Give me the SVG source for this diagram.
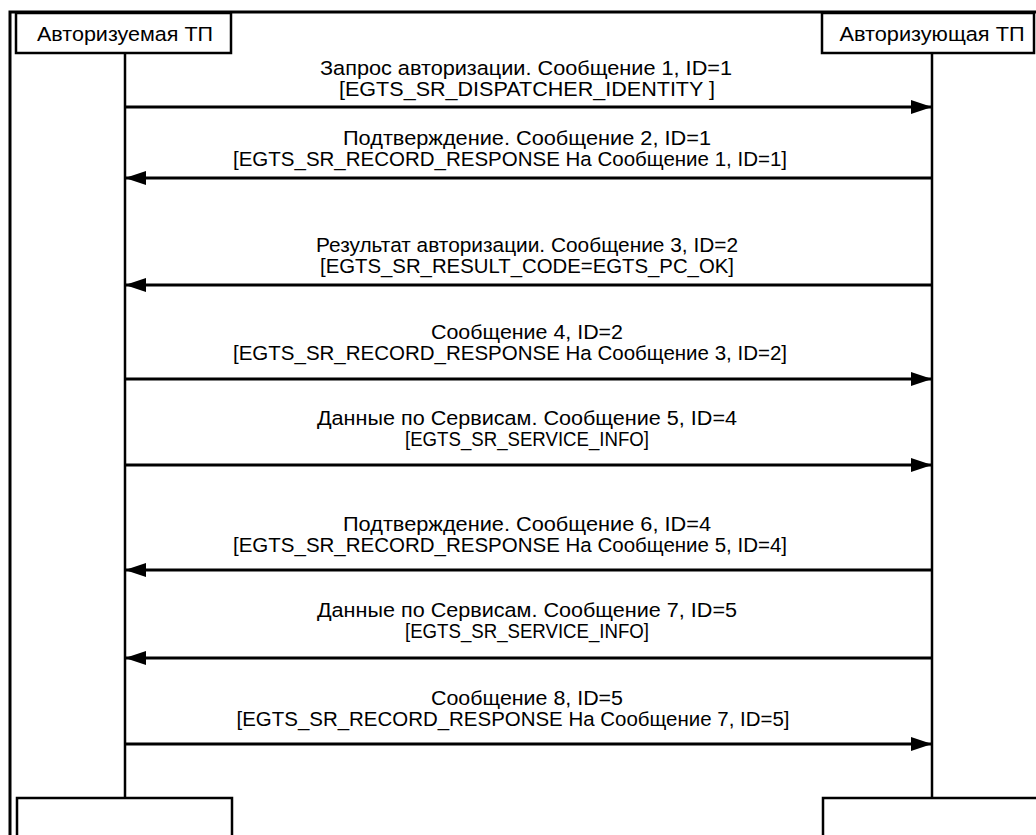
<svg xmlns="http://www.w3.org/2000/svg" width="1036" height="835" viewBox="0 0 1036 835">
<style>
.frame{fill:none;stroke:#000;stroke-width:3}
.box{fill:#fff;stroke:#000;stroke-width:2.5}
.life{stroke:#000;stroke-width:2.5;fill:none}
.msg{stroke:#000;stroke-width:3;fill:none;marker-end:url(#ah)}
text{font-family:"Liberation Sans",Arial,sans-serif;font-size:20.5px;fill:#000;text-anchor:middle;dominant-baseline:central}
</style>
<defs>
<marker id="ah" markerUnits="userSpaceOnUse" markerWidth="22" markerHeight="14" refX="21" refY="7" orient="auto">
<path d="M0,0 L21,7 L0,14 Z" fill="#000"/>
</marker>
</defs>
<rect width="1036" height="835" fill="#fff"/>
<path class="frame" d="M10,835 V12 H1036"/>
<g id="lifelines">
<line class="life" x1="125" y1="53" x2="125" y2="798"/>
<line class="life" x1="932" y1="53" x2="932" y2="798"/>
</g>
<g id="node-left">
<rect class="box" x="16" y="13" width="215" height="40"/>
<text x="125" y="33" textLength="176" lengthAdjust="spacingAndGlyphs">Авторизуемая ТП</text>
</g>
<g id="node-right">
<rect class="box" x="822" y="13" width="212" height="40"/>
<text x="932" y="33" textLength="185" lengthAdjust="spacingAndGlyphs">Авторизующая ТП</text>
</g>
<g id="node-left-bottom">
<path class="box" d="M17,836 V798 H232 V836"/>
</g>
<g id="node-right-bottom">
<path class="box" d="M823,836 V798 H1037"/>
</g>
<g id="connectors">
<line class="msg" x1="125" y1="107" x2="932" y2="107"/>
<line class="msg" x1="932" y1="178" x2="125" y2="178"/>
<line class="msg" x1="932" y1="285" x2="125" y2="285"/>
<line class="msg" x1="125" y1="379" x2="932" y2="379"/>
<line class="msg" x1="125" y1="465" x2="932" y2="465"/>
<line class="msg" x1="932" y1="570" x2="125" y2="570"/>
<line class="msg" x1="932" y1="658" x2="125" y2="658"/>
<line class="msg" x1="125" y1="744" x2="932" y2="744"/>
</g>
<g id="labels">
<text x="526" y="67" textLength="412" lengthAdjust="spacingAndGlyphs">Запрос авторизации. Сообщение 1, ID=1</text>
<text x="527" y="88" textLength="376" lengthAdjust="spacingAndGlyphs">[EGTS_SR_DISPATCHER_IDENTITY ]</text>
<text x="527" y="137" textLength="368" lengthAdjust="spacingAndGlyphs">Подтверждение. Сообщение 2, ID=1</text>
<text x="510" y="158" textLength="554" lengthAdjust="spacingAndGlyphs">[EGTS_SR_RECORD_RESPONSE На Сообщение 1, ID=1]</text>
<text x="527" y="244" textLength="422" lengthAdjust="spacingAndGlyphs">Результат авторизации. Сообщение 3, ID=2</text>
<text x="527" y="265" textLength="414" lengthAdjust="spacingAndGlyphs">[EGTS_SR_RESULT_CODE=EGTS_PC_OK]</text>
<text x="527" y="331" textLength="192" lengthAdjust="spacingAndGlyphs">Сообщение 4, ID=2</text>
<text x="510" y="352" textLength="554" lengthAdjust="spacingAndGlyphs">[EGTS_SR_RECORD_RESPONSE На Сообщение 3, ID=2]</text>
<text x="527" y="417" textLength="420" lengthAdjust="spacingAndGlyphs">Данные по Сервисам. Сообщение 5, ID=4</text>
<text x="527" y="438" textLength="244" lengthAdjust="spacingAndGlyphs">[EGTS_SR_SERVICE_INFO]</text>
<text x="527" y="523" textLength="368" lengthAdjust="spacingAndGlyphs">Подтверждение. Сообщение 6, ID=4</text>
<text x="510" y="544" textLength="554" lengthAdjust="spacingAndGlyphs">[EGTS_SR_RECORD_RESPONSE На Сообщение 5, ID=4]</text>
<text x="527" y="609" textLength="420" lengthAdjust="spacingAndGlyphs">Данные по Сервисам. Сообщение 7, ID=5</text>
<text x="527" y="630" textLength="244" lengthAdjust="spacingAndGlyphs">[EGTS_SR_SERVICE_INFO]</text>
<text x="527" y="697" textLength="192" lengthAdjust="spacingAndGlyphs">Сообщение 8, ID=5</text>
<text x="513" y="718" textLength="553" lengthAdjust="spacingAndGlyphs">[EGTS_SR_RECORD_RESPONSE На Сообщение 7, ID=5]</text>
</g>
</svg>
